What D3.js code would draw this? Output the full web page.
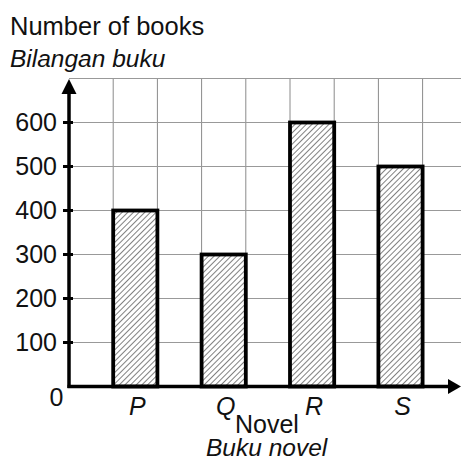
<!DOCTYPE html>
<html>
<head>
<meta charset="utf-8">
<script src="https://cdn.jsdelivr.net/npm/d3@7/dist/d3.min.js"></script>
<style>
  html, body { margin: 0; padding: 0; background: #fff; }
  svg { display: block; }
  text { font-family: "Liberation Sans", Arial, sans-serif; fill: #111; }
</style>
</head>
<body>
<svg id="chart" width="461" height="459"></svg>
<script>
const categories = ["P", "Q", "R", "S"];
const values = [400, 300, 600, 500];
const yTicks = [100, 200, 300, 400, 500, 600];
const yGrid = [100, 200, 300, 400, 500, 600, 700];
const titleEn = "Number of books";
const titleMs = "Bilangan buku";
const xTitleEn = "Novel";
const xTitleMs = "Buku novel";

const svg = d3.select("#chart");
const W = 461, H = 459;
const x0 = 69, y0 = 386.5;
const cell = 44.2;

const x = d3.scaleBand().domain(categories)
  .range([x0, x0 + cell * 9]).paddingInner(0.5).paddingOuter(0.5);
const y = d3.scaleLinear().domain([0, 700]).range([y0, y0 - 7 * 44]);

// hatch pattern
const defs = svg.append("defs");
const hp = 4;
const pat = defs.append("pattern").attr("id", "hatch")
  .attr("patternUnits", "userSpaceOnUse").attr("width", hp).attr("height", hp)
  .attr("patternTransform", "rotate(45)");
pat.append("rect").attr("width", hp).attr("height", hp).attr("fill", "#fff");
pat.append("line").attr("x1", 0.5).attr("y1", 0).attr("x2", 0.5).attr("y2", hp)
  .attr("stroke", "#6a6a6a").attr("stroke-width", 0.85);

// grid
const g = svg.append("g");
const vx = d3.range(1, 9).map(i => x0 + i * cell);
g.selectAll(".vg").data(vx).enter().append("line")
  .attr("x1", d => d).attr("x2", d => d)
  .attr("y1", y(700)).attr("y2", y0)
  .attr("stroke", "#8a8a8a").attr("stroke-width", 1);
g.selectAll(".hg").data(yGrid).enter().append("line")
  .attr("x1", x0).attr("x2", W)
  .attr("y1", d => y(d)).attr("y2", d => y(d))
  .attr("stroke", "#999").attr("stroke-width", 1);

// bars
svg.selectAll(".bar").data(categories).enter().append("rect")
  .attr("x", d => x(d))
  .attr("y", (d, i) => y(values[i]))
  .attr("width", x.bandwidth())
  .attr("height", (d, i) => y0 - y(values[i]))
  .attr("fill", "url(#hatch)")
  .attr("stroke", "#000").attr("stroke-width", 3.8);

// axes
svg.append("line").attr("x1", x0).attr("x2", x0).attr("y1", y0 + 1.5).attr("y2", 92)
  .attr("stroke", "#000").attr("stroke-width", 3.5);
svg.append("path").attr("d", `M${x0},79 L${x0 - 7.5},94 L${x0 + 7.5},94 Z`).attr("fill", "#000");
svg.append("line").attr("x1", x0 - 1.5).attr("x2", 452).attr("y1", y0).attr("y2", y0)
  .attr("stroke", "#000").attr("stroke-width", 3.5);
svg.append("path").attr("d", `M461,${y0} L448,${y0 - 7.5} L448,${y0 + 7.5} Z`).attr("fill", "#000");

// y ticks
svg.selectAll(".tk").data(yTicks).enter().append("line")
  .attr("x1", x0 - 6).attr("x2", x0 + 4)
  .attr("y1", d => y(d)).attr("y2", d => y(d))
  .attr("stroke", "#000").attr("stroke-width", 3);
svg.selectAll(".tl").data(yTicks).enter().append("text")
  .attr("x", 57).attr("y", d => y(d)).attr("dy", "0.35em")
  .attr("text-anchor", "end").attr("font-size", 25).text(d => d);
svg.append("text").attr("x", 56.5).attr("y", 406).attr("text-anchor", "middle")
  .attr("font-size", 25).text("0");

// category labels
svg.selectAll(".cl").data(categories).enter().append("text")
  .attr("x", d => x(d) + x.bandwidth() / 2 + 2).attr("y", 415)
  .attr("text-anchor", "middle").attr("font-size", 25).attr("font-style", "italic")
  .text(d => d);

// titles
svg.append("text").attr("x", 10).attr("y", 35).attr("font-size", 25.5).text(titleEn);
svg.append("text").attr("x", 10).attr("y", 67).attr("font-size", 24.5).attr("font-style", "italic").text(titleMs);
svg.append("text").attr("x", 235).attr("y", 433).attr("font-size", 25).text(xTitleEn);
svg.append("text").attr("x", 206).attr("y", 456).attr("font-size", 24.5).attr("font-style", "italic").text(xTitleMs);
</script>
</body>
</html>
